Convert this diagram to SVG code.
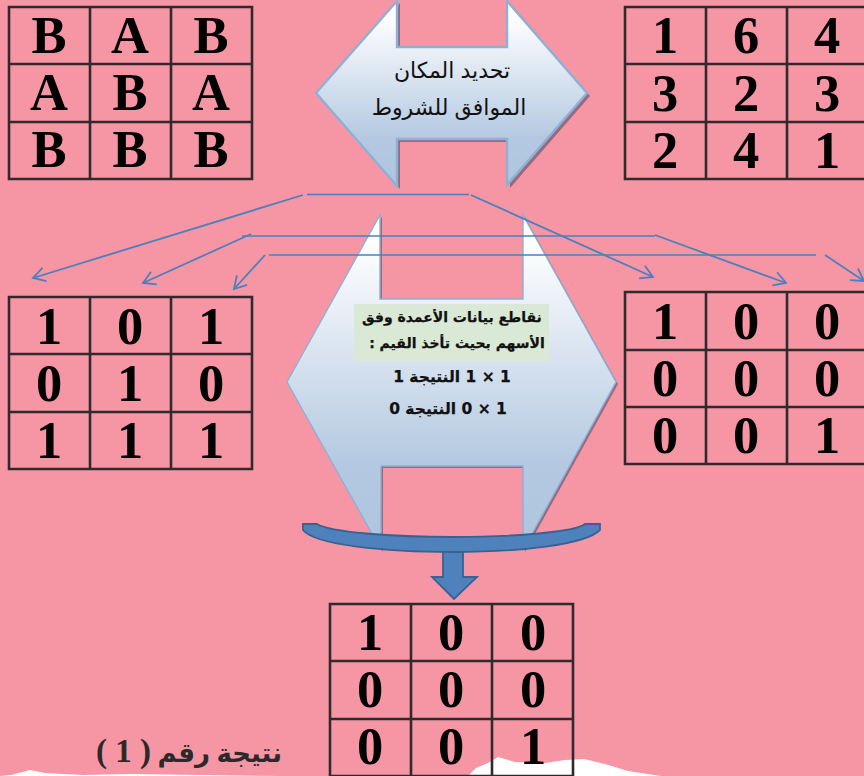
<svg xmlns="http://www.w3.org/2000/svg" width="864" height="776" viewBox="0 0 864 776">
<style>
.grid{fill:none;stroke:#2f2b2c;stroke-width:2.6}
.cell{font-family:"Liberation Serif","Times New Roman",serif;font-weight:700;font-size:52.500px;fill:#000;text-anchor:middle}
.ar{font-family:"Liberation Sans","DejaVu Sans",sans-serif;direction:rtl;text-anchor:middle}
.big{font-size:22px;fill:#111}
.small{font-family:"DejaVu Sans",sans-serif;font-weight:700;font-size:14px;fill:#111;stroke:#111;stroke-width:.25;direction:rtl;text-anchor:middle}
.num{font-size:15.500px}
.conn{fill:none;stroke:#4a80bd;stroke-width:1.8}
.thin{fill:none;stroke:#4a80bd;stroke-width:1.4}
.shape{fill:url(#g);stroke:#8cb0d6;stroke-width:2.4}
.shape2{fill:url(#g);stroke:#8cb0d6;stroke-width:1.4}
.shadow{fill:#7a5a72;opacity:.75}
.ribbon{fill:#4f81bd;stroke:#386291;stroke-width:1.8}
</style>
<defs>
<linearGradient id="g" x1="0" y1="0" x2="0" y2="1"><stop offset=".08" stop-color="#fff"/><stop offset=".74" stop-color="#b4c9e1"/><stop offset="1" stop-color="#aec5de"/></linearGradient>
<marker id="a" markerUnits="userSpaceOnUse" markerWidth="20" markerHeight="20" refX="15" refY="10" orient="auto" viewBox="0 0 20 20"><path d="M3,3 L15,10 L3,17" fill="none" stroke="#4a80bd" stroke-width="1.8"/></marker>
</defs>
<rect width="864" height="776" fill="#f696a5"/>
<path d="M0,776 L11,775 L30,770 L45,773 L83,775 L130,774 L200,775 L281,776 Z" fill="#fff"/>
<path d="M468,776 L476,768 L488,763 L498,757 L515,762 L545,763 L565,760 L584,759 L605,764 L628,771 L661,776 Z" fill="#fff"/>

<g id="arrow-top">
<polygon class="shadow" points="319,96 400,3 400,50 510,50 510,3 590,96 510,188 510,142 400,142 400,189"/>
<polygon class="shape" points="316,93 397,1 397,47 507,47 507,1 587,93 507,185 507,139 397,139 397,186"/>
<text class="ar big" x="452" y="78">تحديد المكان</text>
<text class="ar big" x="449" y="115">الموافق للشروط</text>
</g>

<g id="arrow-mid">
<polygon class="shadow" points="289,384 382,217 382,301 525,301 525,217 618,384 525,552 525,468 383,468 383,552"/>
<polygon class="shape2" points="287,382 380,215 380,299 523,299 523,215 616,382 523,550 523,466 381,466 381,550"/>
<rect x="354" y="304" width="195" height="57" fill="#d9e9d5"/>
<text class="small" x="452" y="322">نقاطع بيانات الأعمدة وفق</text>
<text class="small" x="457" y="348">الأسهم بحيث تأخذ القيم :</text>
<text class="small num" x="452" y="382">1 × 1 النتيجة 1</text>
<text class="small num" x="448" y="414">1 × 0 النتيجة 0</text>
</g>

<g id="connectors">
<path class="thin" d="M307,194.500H469"/>
<path class="conn" d="M303,195L33,278" marker-end="url(#a)"/>
<path class="conn" d="M471,195L653,277" marker-end="url(#a)"/>
<path class="thin" d="M242,236H655"/>
<path class="conn" d="M251,234L143,283" marker-end="url(#a)"/>
<path class="conn" d="M655,235L786,283" marker-end="url(#a)"/>
<path class="thin" d="M269,255H816"/>
<path class="conn" d="M265,255L234,289" marker-end="url(#a)"/>
<path class="conn" d="M825,255L864,281" marker-end="url(#a)"/>
</g>

<g id="merge-arrow">
<path class="ribbon" d="M303,524 L317,524 C330,532 390,537 453,537 C515,537 575,532 585,524 L600,524 L600,530 C585,545 520,552 453,552 C385,552 315,545 303,530 Z"/>
<polygon class="ribbon" points="443,552 463,552 463,577 477,577 454,599 432,577 443,577"/>
</g>

<g id="table-tl">
<path class="grid" d="M9,7H252V179H9ZM90,7V179M171,7V179M9,64H252M9,122H252"/>
<text class="cell" x="49" y="53">B</text><text class="cell" x="130" y="53">A</text><text class="cell" x="211" y="53">B</text>
<text class="cell" x="49" y="110">A</text><text class="cell" x="130" y="110">B</text><text class="cell" x="211" y="110">A</text>
<text class="cell" x="49" y="167">B</text><text class="cell" x="130" y="167">B</text><text class="cell" x="211" y="167">B</text>
</g>

<g id="table-tr">
<path class="grid" d="M625,7H870V179H625ZM706,7V179M787,7V179M625,64H870M625,122H870"/>
<text class="cell" x="665" y="53">1</text><text class="cell" x="746" y="53">6</text><text class="cell" x="827" y="53">4</text>
<text class="cell" x="665" y="111">3</text><text class="cell" x="746" y="111">2</text><text class="cell" x="827" y="111">3</text>
<text class="cell" x="665" y="168">2</text><text class="cell" x="746" y="168">4</text><text class="cell" x="827" y="168">1</text>
</g>

<g id="table-ml">
<path class="grid" d="M9,297H252V469H9ZM90,297V469M171,297V469M9,354H252M9,412H252"/>
<text class="cell" x="49" y="344">1</text><text class="cell" x="130" y="344">0</text><text class="cell" x="211" y="344">1</text>
<text class="cell" x="49" y="401">0</text><text class="cell" x="130" y="401">1</text><text class="cell" x="211" y="401">0</text>
<text class="cell" x="49" y="458">1</text><text class="cell" x="130" y="458">1</text><text class="cell" x="211" y="458">1</text>
</g>

<g id="table-mr">
<path class="grid" d="M625,292H870V464H625ZM706,292V464M787,292V464M625,350H870M625,407H870"/>
<text class="cell" x="665" y="339">1</text><text class="cell" x="746" y="339">0</text><text class="cell" x="827" y="339">0</text>
<text class="cell" x="665" y="396">0</text><text class="cell" x="746" y="396">0</text><text class="cell" x="827" y="396">0</text>
<text class="cell" x="665" y="453">0</text><text class="cell" x="746" y="453">0</text><text class="cell" x="827" y="453">1</text>
</g>

<g id="table-bottom">
<path class="grid" d="M330,604H573V776H330ZM411,604V776M492,604V776M330,661H573M330,719H573"/>
<text class="cell" x="370" y="650">1</text><text class="cell" x="451" y="650">0</text><text class="cell" x="533" y="650">0</text>
<text class="cell" x="370" y="707">0</text><text class="cell" x="451" y="707">0</text><text class="cell" x="533" y="707">0</text>
<text class="cell" x="370" y="764">0</text><text class="cell" x="451" y="764">0</text><text class="cell" x="533" y="764">1</text>
</g>

<g id="caption">
<text x="282" y="762" direction="rtl" text-anchor="start" font-family="'Liberation Serif','DejaVu Sans',serif" font-weight="700" font-size="26" fill="#2a2a2a">نتيجة رقم <tspan font-size="33">( 1 )</tspan></text>
</g>
</svg>
